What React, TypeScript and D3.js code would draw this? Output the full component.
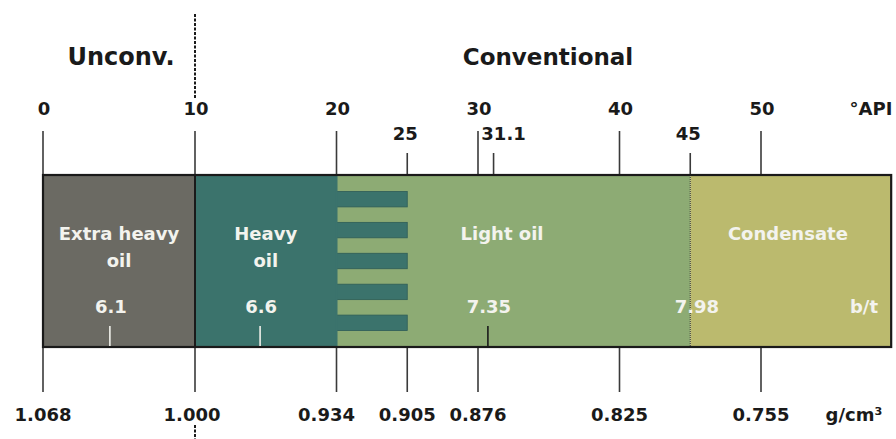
import React from 'react';
import * as d3 from 'd3';

// ---- data ----
const apiMajorTicks = [0, 10, 20, 30, 40, 50];
const apiMinorTicks = [25, 31.1, 45];
const apiUnit = '°API';
const densityAt = [0, 10, 20, 25, 30, 40, 50];
const densityLabels = ['1.068', '1.000', '0.934', '0.905', '0.876', '0.825', '0.755'];
const densityUnit = 'g/cm³';
const classLabels = [['Extra heavy', 'oil'], ['Heavy', 'oil'], ['Light oil'], ['Condensate']];
const classFrom = [0, 10, 20, 45];
const classTo = [10, 20, 45, 59.2];
const classLabelAt = [5, 15, 31.7, 51.9];
const transitionFrom = 20;
const transitionTo = 25;
const bptLabels = ['6.1', '6.6', '7.35', '7.98'];
const bptAt = [4.4, 14.6, 30.7, 45.4];
const bptHasTick = [true, true, true, false];
const bptUnit = 'b/t';
const groupLabels = ['Unconv.', 'Conventional'];
const groupDivider = 10;

// ---- styles ----
const classColors = ['#6b6a63', '#3b736c', '#8dab74', '#bbba6e'];
const densityLabelDx = [0, -3, -10, 0, 0, 0, 0];
const FONT = "'DejaVu Sans', Verdana, sans-serif";
const W = 896;
const H = 439;
const barTop = 175;
const barBottom = 347;

export default function App() {
  const x = d3.scaleLinear().domain([0, 10, 50]).range([43, 195, 761]);
  const stripeCount = 11;
  const stripeH = (barBottom - barTop - 2) / stripeCount;
  const stripes = d3.range(stripeCount).filter((i) => i % 2 === 1);
  const xEnd = x(classTo[classTo.length - 1]);

  return (
    <svg width={W} height={H} style={{ position: 'absolute', left: 0, top: 0 }} fontFamily={FONT}>
      <rect x={0} y={0} width={W} height={H} fill="#ffffff" />
      {/* group titles */}
      <text x={121} y={65} textAnchor="middle" fontSize={24} fontWeight="bold" fill="#1a1a1a">{groupLabels[0]}</text>
      <text x={548} y={65} textAnchor="middle" fontSize={23} fontWeight="bold" fill="#1a1a1a">{groupLabels[1]}</text>
      <line x1={x(groupDivider)} x2={x(groupDivider)} y1={14} y2={98} stroke="#1a1a1a" strokeWidth={2} strokeDasharray="3,1.5" />
      <line x1={x(groupDivider)} x2={x(groupDivider)} y1={425} y2={439} stroke="#1a1a1a" strokeWidth={2} strokeDasharray="3,1.5" />

      {/* top axis */}
      {apiMajorTicks.map((t) => (
        <g key={'maj' + t}>
          <line x1={x(t)} x2={x(t)} y1={131} y2={barTop} stroke="#3a3a3a" strokeWidth={1.6} />
          <text x={x(t) + 1} y={115} textAnchor="middle" fontSize={18} fontWeight="bold" fill="#1a1a1a">{t}</text>
        </g>
      ))}
      <text x={871} y={115} textAnchor="middle" fontSize={18} fontWeight="bold" fill="#1a1a1a">{apiUnit}</text>
      {apiMinorTicks.map((t, i) => (
        <g key={'min' + t}>
          <line x1={x(t)} x2={x(t)} y1={153} y2={barTop} stroke="#3a3a3a" strokeWidth={1.6} />
          <text x={x(t) + (i === 1 ? 10 : -2)} y={140} textAnchor="middle" fontSize={18} fontWeight="bold" fill="#1a1a1a">{String(t)}</text>
        </g>
      ))}

      {/* bottom axis */}
      {densityAt.map((t, i) => (
        <g key={'den' + i}>
          <line x1={x(t)} x2={x(t)} y1={barBottom} y2={392} stroke="#3a3a3a" strokeWidth={1.6} />
          <text x={x(t) + densityLabelDx[i]} y={421} textAnchor="middle" fontSize={18} fontWeight="bold" fill="#1a1a1a">{densityLabels[i]}</text>
        </g>
      ))}
      <text x={854} y={421} textAnchor="middle" fontSize={18} fontWeight="bold" fill="#1a1a1a">{densityUnit}</text>

      {/* class bands */}
      {classFrom.map((f, i) => (
        <rect key={'band' + i} x={x(f)} y={barTop} width={x(classTo[i]) - x(f)} height={barBottom - barTop} fill={classColors[i]} />
      ))}
      {/* transition hatch */}
      {stripes.map((i) => (
        <rect key={'st' + i} x={x(transitionFrom)} y={barTop + 1 + i * stripeH} width={x(transitionTo) - x(transitionFrom)} height={stripeH}
          fill={classColors[1]} stroke="#2f5d57" strokeWidth={0.8} />
      ))}
      <rect x={x(transitionFrom) - 1} y={barTop + 1} width={2} height={barBottom - barTop - 2} fill={classColors[1]} />
      {/* dividers */}
      <line x1={x(groupDivider)} x2={x(groupDivider)} y1={barTop} y2={barBottom} stroke="#1a1a1a" strokeWidth={2} />
      <line x1={x(classFrom[3])} x2={x(classFrom[3])} y1={barTop} y2={barBottom} stroke="#333" strokeWidth={1} strokeDasharray="1,1" />
      {/* outline */}
      <rect x={x(0)} y={barTop} width={xEnd - x(0)} height={barBottom - barTop} fill="none" stroke="#1a1a1a" strokeWidth={2.2} />

      {/* class labels */}
      {classLabels.map((lines, i) => (
        <text key={'cl' + i} textAnchor="middle" fontSize={18} fontWeight="bold" fill="#f3f3ee">
          {lines.map((l, j) => (
            <tspan key={j} x={x(classLabelAt[i])} y={240 + j * 27}>{l}</tspan>
          ))}
        </text>
      ))}

      {/* barrels per tonne */}
      {bptLabels.map((l, i) => (
        <g key={'bpt' + i}>
          {bptHasTick[i] && (
            <line x1={x(bptAt[i])} x2={x(bptAt[i])} y1={326} y2={barBottom - 1} stroke={i < 2 ? '#f0f0ea' : '#1a1a1a'} strokeWidth={1.6} />
          )}
          <text x={x(bptAt[i]) + 1} y={313} textAnchor="middle" fontSize={18} fontWeight="bold" fill="#f3f3ee">{l}</text>
        </g>
      ))}
      <text x={864} y={313} textAnchor="middle" fontSize={18} fontWeight="bold" fill="#f3f3ee">{bptUnit}</text>
    </svg>
  );
}
